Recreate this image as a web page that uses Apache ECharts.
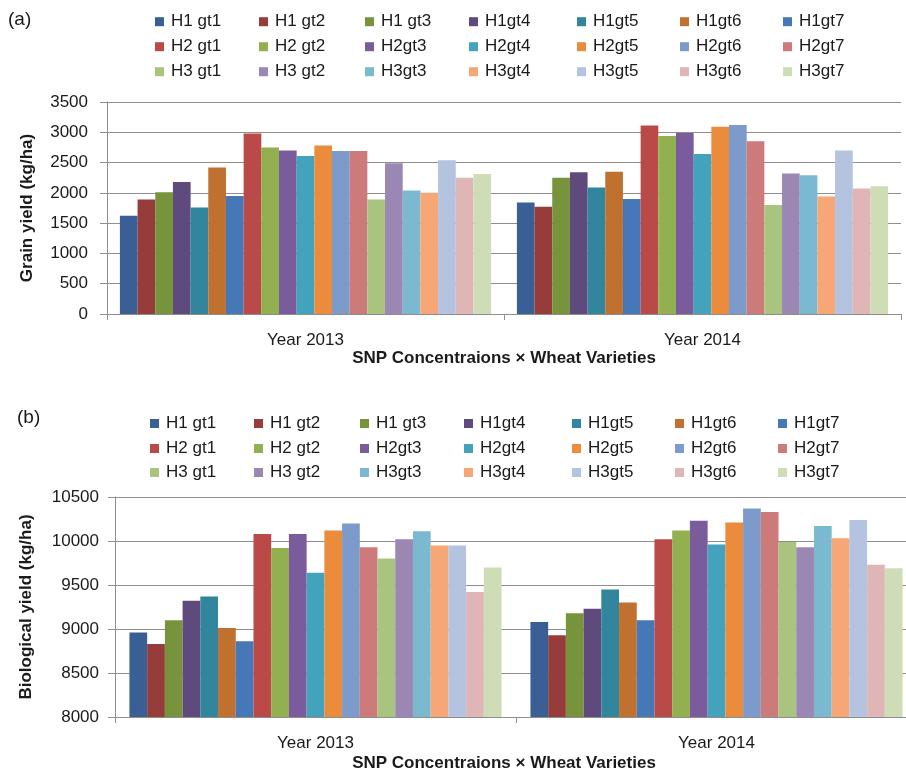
<!DOCTYPE html>
<html>
<head>
<meta charset="utf-8">
<script src="https://cdn.jsdelivr.net/npm/echarts@6/dist/echarts.min.js"></script>
<style>
html,body{margin:0;padding:0;background:#fff;}
#main{width:906px;height:778px;}
</style>
</head>
<body>
<div id="main"></div>
<script>
// ---- data ----
const categories = ['Year 2013', 'Year 2014'];
const seriesNames = [
  'H1 gt1','H1 gt2','H1 gt3','H1gt4','H1gt5','H1gt6','H1gt7',
  'H2 gt1','H2 gt2','H2gt3','H2gt4','H2gt5','H2gt6','H2gt7',
  'H3 gt1','H3 gt2','H3gt3','H3gt4','H3gt5','H3gt6','H3gt7'
];
const seriesColors = [
  '#3A5F94','#963C3A','#77933C','#5F4A7E','#31859C','#C0702F','#4677B6',
  '#B94A48','#92B050','#7A5B9B','#43A2BC','#EA8C3C','#7C9BCA','#CC7B7A',
  '#A9C47E','#9B87B4','#7AB9CF','#F6A775','#B3C3E0','#E0B5B5','#CEDDB5'
];
const grain2013 = [1620,1890,2010,2180,1760,2420,1950, 2980,2750,2700,2610,2780,2690,2690, 1890,2490,2040,2000,2540,2250,2310];
const grain2014 = [1840,1770,2250,2340,2090,2350,1900, 3110,2940,2990,2640,3090,3120,2850, 1800,2320,2290,1940,2700,2070,2110];
const bio2013 = [8960,8830,9100,9320,9370,9010,8860, 10080,9920,10080,9640,10120,10200,9930, 9800,10020,10110,9950,9950,9420,9700];
const bio2014 = [9080,8930,9180,9230,9450,9300,9100, 10020,10120,10230,9960,10210,10370,10330, 9990,9930,10170,10030,10240,9730,9690];
const grainTicks = {min: 0, max: 3500, interval: 500};
const bioTicks = {min: 8000, max: 10500, interval: 500};
const panelLabels = ['(a)', '(b)'];
const yNames = ['Grain yield (kg/ha)', 'Biological yield (kg/ha)'];
const xName = 'SNP Concentraions × Wheat Varieties';

// ---- styles / layout ----
const FONT = 'Liberation Sans';
const TXT = '#1a1a1a';
const GRID = '#8e8e8e';
const chart = echarts.init(document.getElementById('main'), null, {renderer: 'canvas'});

const grids = [
  {left: 107, top: 102, width: 794, height: 212, containLabel: false, outerBoundsMode: 'none'},
  {left: 115, top: 497, width: 802, height: 220, containLabel: false, outerBoundsMode: 'none'}
];
const catGaps = ['6.5%', '7.2%'];
const legendCols = [[155,259,365,469,577,680,783],[150,254,360,464,572,675,778]];
const legendRows = [[21.7,46.7,71.7],[423.5,448.5,472.5]];

function yAxis(idx, ticks, margin, nameGap) {
  return {
    type: 'value', gridIndex: idx,
    min: ticks.min, max: ticks.max, interval: ticks.interval,
    name: yNames[idx], nameLocation: 'middle', nameRotate: 90, nameGap: nameGap,
    nameTextStyle: {fontFamily: FONT, fontSize: 17, fontWeight: 'bold', color: TXT},
    axisLine: {show: true, lineStyle: {color: GRID, width: 1}},
    axisTick: {show: true, length: 7, lineStyle: {color: GRID}},
    axisLabel: {fontFamily: FONT, fontSize: 17, color: TXT, margin: margin, formatter: function (v) { return String(v); }},
    splitLine: {show: true, lineStyle: {color: GRID, width: 1}}
  };
}
function xAxis(idx) {
  return {
    type: 'category', gridIndex: idx, data: categories,
    axisLine: {show: true, lineStyle: {color: GRID, width: 1}},
    axisTick: {show: true, length: 6, alignWithLabel: false, lineStyle: {color: GRID}},
    axisLabel: {fontFamily: FONT, fontSize: 17, color: TXT, margin: 18},
    splitLine: {show: false}
  };
}

const series = [];
const dataSets = [[grain2013, grain2014], [bio2013, bio2014]];
for (let g = 0; g < 2; g++) {
  for (let i = 0; i < seriesNames.length; i++) {
    series.push({
      type: 'bar', name: seriesNames[i],
      xAxisIndex: g, yAxisIndex: g,
      data: [dataSets[g][0][i], dataSets[g][1][i]],
      itemStyle: {color: seriesColors[i]},
      barGap: '0%', barCategoryGap: catGaps[g],
      animation: false
    });
  }
}

const legends = [];
for (let g = 0; g < 2; g++) {
  for (let i = 0; i < seriesNames.length; i++) {
    const r = Math.floor(i / 7), c = i % 7;
    legends.push({
      data: [seriesNames[i]],
      left: legendCols[g][c], top: legendRows[g][r] - 8.5,
      padding: 0, itemWidth: 9, itemHeight: 9, icon: 'rect',
      selectedMode: false,
      textStyle: {fontFamily: FONT, fontSize: 17, color: TXT, lineHeight: 17, padding: [0,0,0,2]}
    });
  }
}

const graphics = [
  {type: 'text', left: 8, top: 20.7 - 10, style: {text: panelLabels[0], font: '19px "' + FONT + '"', fill: TXT}},
  {type: 'text', left: 17, top: 418 - 10, style: {text: panelLabels[1], font: '19px "' + FONT + '"', fill: TXT}},
  {type: 'text', x: 504, y: 358, style: {text: xName, font: 'bold 17px "' + FONT + '"', fill: TXT, textAlign: 'center', textVerticalAlign: 'middle'}},
  {type: 'text', x: 504, y: 763, style: {text: xName, font: 'bold 17px "' + FONT + '"', fill: TXT, textAlign: 'center', textVerticalAlign: 'middle'}}
];

chart.setOption({
  backgroundColor: '#ffffff',
  animation: false,
  grid: grids,
  xAxis: [xAxis(0), xAxis(1)],
  yAxis: [yAxis(0, grainTicks, 19, 71), yAxis(1, bioTicks, 16, 80)],
  legend: legends,
  series: series,
  graphic: graphics
});
</script>
</body>
</html>
